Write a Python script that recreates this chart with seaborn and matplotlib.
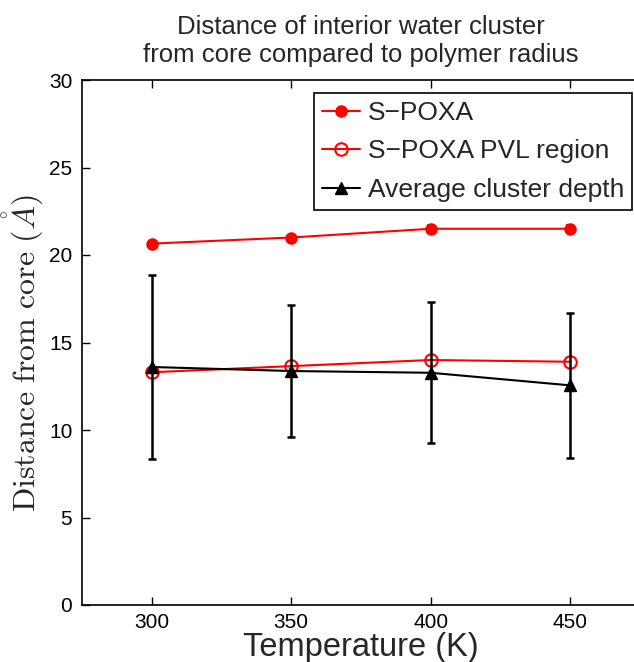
import matplotlib
matplotlib.use("Agg")
import matplotlib.pyplot as plt
import seaborn as sns
import pandas as pd
import numpy as np

temperature = [300, 350, 400, 450]
spoxa = [20.65, 21.0, 21.5, 21.5]
spoxa_err = [0.1, 0.1, 0.2, 0.2]
pvl_region = [13.3, 13.65, 14.0, 13.9]
cluster_depth = [13.6, 13.37, 13.27, 12.55]
cluster_err = [5.27, 3.78, 4.03, 4.15]

series_names = ["S\u2212POXA", "S\u2212POXA PVL region", "Average cluster depth"]

sns.set_theme(style="white")
plt.rcParams["font.family"] = ["Liberation Sans", "DejaVu Sans"]
plt.rcParams["mathtext.fontset"] = "cm"

fig = plt.figure(figsize=(6.34, 6.62), dpi=100)
W, H = 634, 662
ax = fig.add_axes([82 / W, (H - 605) / H, (640 - 82) / W, (605 - 80) / H])

df = pd.DataFrame({
    "T": temperature * 3,
    "d": spoxa + pvl_region + cluster_depth,
    "s": [series_names[0]] * 4 + [series_names[1]] * 4 + [series_names[2]] * 4,
})

styles = [
    dict(color="red", marker="o", mfc="red", mec="red", ms=8),
    dict(color="red", marker="o", mfc="none", mec="red", ms=9, mew=1.5),
    dict(color="black", marker="^", mfc="black", mec="black", ms=9),
]
for name, st in zip(series_names, styles):
    sub = df[df["s"] == name]
    sns.lineplot(data=sub, x="T", y="d", ax=ax, color=st["color"], lw=1.5,
                 marker=st["marker"], markerfacecolor=st["mfc"],
                 markeredgecolor=st["mec"], markersize=st["ms"],
                 markeredgewidth=st.get("mew", 1), label=name, zorder=3)

ax.errorbar(temperature, spoxa, yerr=spoxa_err, fmt="none", ecolor="red",
            elinewidth=1.5, capsize=3, capthick=1.5, zorder=2)
ax.errorbar(temperature, cluster_depth, yerr=cluster_err, fmt="none",
            ecolor="black", elinewidth=1.8, capsize=3, capthick=1.8, zorder=4)

ax.set_xlim(275, 475)
ax.set_ylim(0, 30)
ax.set_xticks(temperature)
ax.set_yticks([0, 5, 10, 15, 20, 25, 30])
ax.tick_params(direction="in", length=6, width=1, labelsize=15, colors="black",
               top=True, right=False, left=True, bottom=True, pad=7)
ax.tick_params(axis="x", pad=5.5)
for sp in ax.spines.values():
    sp.set_color("black")
    sp.set_linewidth(1.2)

ax.set_xlabel("Temperature (K)", fontsize=23.5, labelpad=0)
ax.set_ylabel(r"$\mathrm{Distance\ from\ core\ (}\mathring{A}\mathrm{)}$",
              fontsize=23, labelpad=2)
ax.yaxis.label.set_y(0.48)
ax.set_title("Distance of interior water cluster\nfrom core compared to polymer radius",
             fontsize=18.5, pad=13, linespacing=1.2)

leg = ax.legend(loc="upper right", bbox_to_anchor=(632 / W, (H - 93) / H),
                bbox_transform=fig.transFigure, fontsize=19, frameon=True,
                fancybox=False, edgecolor="black", framealpha=1,
                handlelength=1.45, handletextpad=0.3, labelspacing=0.55,
                borderpad=0.3, borderaxespad=0)
leg.get_frame().set_linewidth(1.2)

fig.savefig("out.png", dpi=100)
